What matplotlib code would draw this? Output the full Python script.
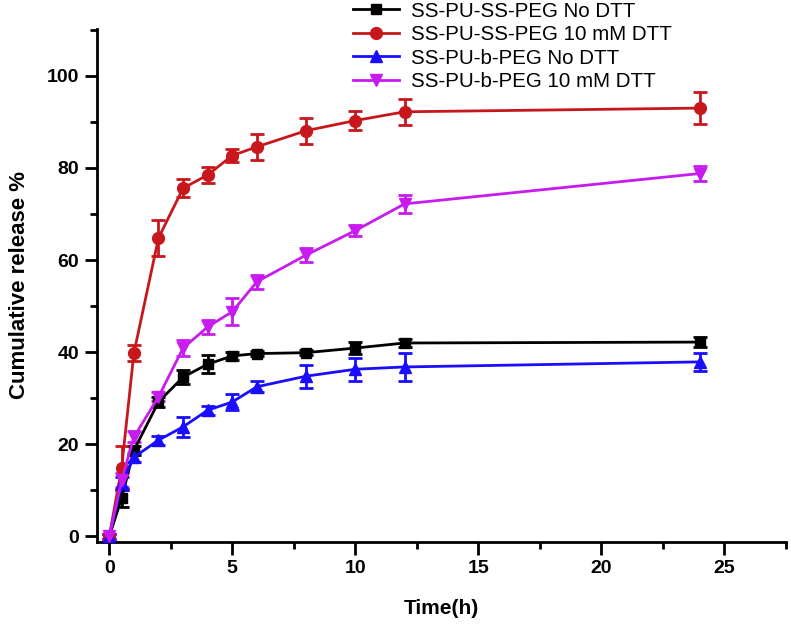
import numpy as np
import matplotlib
matplotlib.use("Agg")
import matplotlib.pyplot as plt
from matplotlib.lines import Line2D

# release time points (h)
time_h = [0, 0.5, 1, 2, 3, 4, 5, 6, 8, 10, 12, 24]

# cumulative release % and error bars
ss_no_dtt = [0, 8.3, 18.7, 29.2, 34.6, 37.4, 39.2, 39.7, 39.9, 40.9, 42.0, 42.2]
ss_no_dtt_err = [0.5, 2.0, 1.0, 1.0, 1.5, 2.0, 0.8, 0.6, 0.6, 1.3, 0.8, 1.0]

ss_dtt = [0, 14.8, 39.8, 64.8, 75.6, 78.5, 82.7, 84.6, 88.1, 90.3, 92.2, 93.0]
ss_dtt_err = [0.5, 4.8, 1.7, 3.9, 2.0, 1.8, 1.4, 2.8, 2.8, 2.0, 2.8, 3.5]

b_no_dtt = [0, 11.5, 17.2, 20.9, 23.8, 27.4, 29.2, 32.5, 34.8, 36.3, 36.8, 37.9]
b_no_dtt_err = [0.5, 1.5, 1.0, 1.0, 2.2, 1.0, 1.8, 1.2, 2.5, 2.5, 3.0, 2.0]

b_dtt = [0, 12.2, 21.6, 30.3, 40.9, 45.5, 48.8, 55.3, 61.1, 66.4, 72.2, 78.8]
b_dtt_err = [0.5, 1.5, 1.2, 1.0, 1.8, 1.5, 3.0, 1.5, 1.5, 1.2, 2.0, 1.6]

labels = ["SS-PU-SS-PEG No DTT", "SS-PU-SS-PEG 10 mM DTT",
          "SS-PU-b-PEG No DTT", "SS-PU-b-PEG 10 mM DTT"]

plt.rcParams["font.family"] = ["Liberation Sans", "DejaVu Sans"]

fig = plt.figure(figsize=(7.91, 6.28), dpi=100)
ax = fig.add_axes([0.1226, 0.137, 0.871, 0.817])

series = [
    (ss_no_dtt, ss_no_dtt_err, "black", "s", 7),
    (ss_dtt, ss_dtt_err, "#c8171c", "o", 8.5),
    (b_no_dtt, b_no_dtt_err, "#1a0dff", "^", 8.5),
    (b_dtt, b_dtt_err, "#c71bf0", "v", 8.5),
]
handles = []
for (vals, errs, col, mk, ms), lab in zip(series, labels):
    ax.errorbar(time_h, vals, yerr=errs, color=col, marker=mk, markersize=ms,
                linewidth=2, elinewidth=2, capsize=5, capthick=2,
                clip_on=False, zorder=3)
    handles.append(Line2D([], [], color=col, marker=mk, markersize=ms, linewidth=2))

ax.set_xlim(-0.5, 27.5)
ax.set_ylim(-1.2, 110.2)
ax.set_xticks(np.arange(0, 26, 5))
ax.set_xticks(np.arange(0, 27.6, 2.5), minor=True)
ax.set_yticks(np.arange(0, 101, 20))
ax.set_yticks(np.arange(0, 111, 10), minor=True)

for side in ["top", "right"]:
    ax.spines[side].set_visible(False)
for side in ["left", "bottom"]:
    ax.spines[side].set_linewidth(2)

ax.tick_params(which="major", direction="out", length=9, width=2, pad=4)
ax.tick_params(which="minor", direction="out", length=5, width=2)
for lbl in ax.get_xticklabels() + ax.get_yticklabels():
    lbl.set_fontweight("bold")
    lbl.set_fontsize(14)

ax.set_xlabel("Time(h)", fontsize=15, fontweight="bold", labelpad=16)
ax.set_ylabel("Cumulative release %", fontsize=16, fontweight="bold", labelpad=12)

fig.legend(handles=handles, labels=labels, loc="upper left",
           bbox_to_anchor=(0.4235, 1.027), frameon=False, fontsize=14.8,
           handlelength=2.2, handletextpad=0.58, labelspacing=0.22)

fig.savefig("out.png", dpi=100)
